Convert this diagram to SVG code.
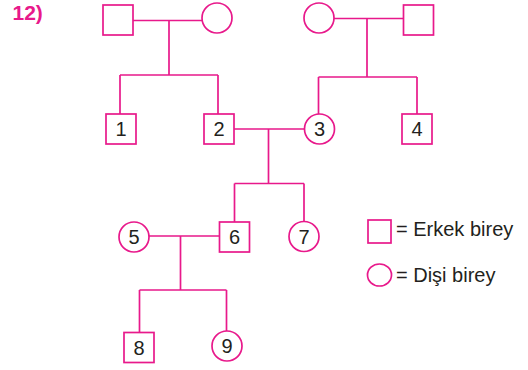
<svg xmlns="http://www.w3.org/2000/svg" width="528" height="370" viewBox="0 0 528 370">
<style>
.s{fill:#fff;stroke:#e8198b;stroke-width:1.7}
.c{fill:none;stroke:#e8198b;stroke-width:1.7}
.t{font-family:"Liberation Sans",Arial,sans-serif;font-size:20px;fill:#231f20;text-anchor:middle}
.l{font-family:"Liberation Sans",Arial,sans-serif;font-size:20px;fill:#231f20}
.h{font-family:"Liberation Sans",Arial,sans-serif;font-size:21px;font-weight:bold;fill:#e8198b}
</style>
<rect width="528" height="370" fill="#fff"/>
<text class="h" x="12.5" y="19.5">12)</text>
<g id="connectors">
<path class="c" d="M133,20.5H202M169,20.5V75M120,75H218M120,75V114M218,75V114"/>
<path class="c" d="M334,18.5H403.5M367,18.5V77M318.5,77H417M318.5,77V114M417,77V114"/>
<path class="c" d="M234,129H304.5M268.5,129V183.5M234.5,183.5H304M234.5,183.5V222M304,183.5V221.5"/>
<path class="c" d="M149,236H219.5M180.5,236V290M139.5,290H226.5M139.5,290V332.5M226.5,290V331"/>
</g>
<g id="gf1"><rect class="s" x="103" y="5" width="30" height="30"/></g>
<g id="gm1"><circle class="s" cx="217" cy="18" r="15"/></g>
<g id="gm2"><circle class="s" cx="319" cy="18" r="15"/></g>
<g id="gf2"><rect class="s" x="403.5" y="5" width="30" height="30"/></g>
<g id="n1"><rect class="s" x="106" y="114" width="30" height="30"/><text class="t" x="121" y="136">1</text></g>
<g id="n2"><rect class="s" x="204" y="114" width="30" height="30"/><text class="t" x="219" y="136">2</text></g>
<g id="n3"><circle class="s" cx="319.5" cy="129" r="15"/><text class="t" x="319.5" y="136">3</text></g>
<g id="n4"><rect class="s" x="402" y="114" width="30" height="30"/><text class="t" x="417" y="136">4</text></g>
<g id="n5"><circle class="s" cx="134" cy="237" r="15"/><text class="t" x="134" y="244">5</text></g>
<g id="n6"><rect class="s" x="219.5" y="222" width="30" height="30"/><text class="t" x="234.5" y="244">6</text></g>
<g id="n7"><circle class="s" cx="304" cy="236.5" r="15"/><text class="t" x="304" y="243.5">7</text></g>
<g id="n8"><rect class="s" x="124" y="332.5" width="30" height="30"/><text class="t" x="139" y="354.5">8</text></g>
<g id="n9"><circle class="s" cx="227" cy="346" r="15"/><text class="t" x="227" y="353">9</text></g>
<g id="legend">
<rect class="s" x="368" y="220" width="23" height="23"/>
<text class="l" x="396" y="235.5">= Erkek birey</text>
<ellipse class="s" cx="379.5" cy="275" rx="12" ry="11"/>
<text class="l" x="396" y="282">= Dişi birey</text>
</g>
</svg>
